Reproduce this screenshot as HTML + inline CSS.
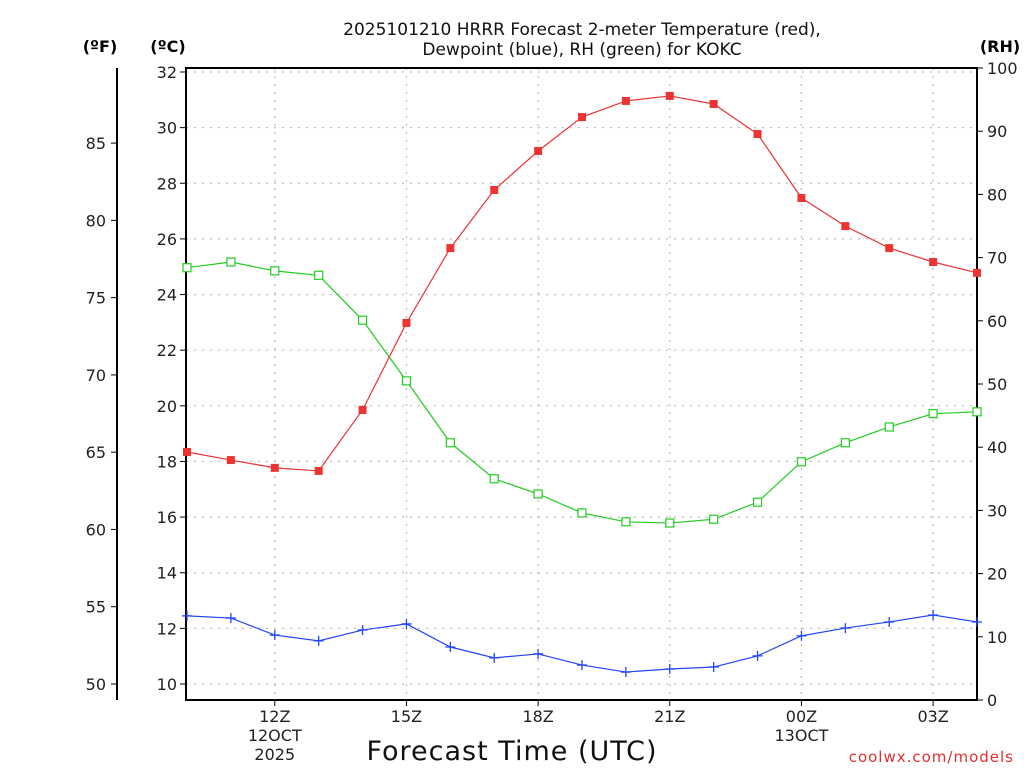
<!DOCTYPE html>
<html><head><meta charset="utf-8"><style>
body{margin:0;background:#fff;}
svg{display:block;font-family:"DejaVu Sans","Liberation Sans",sans-serif;}
</style></head><body>
<svg id="c" width="1024" height="768" xmlns="http://www.w3.org/2000/svg"></svg>
<script>
const hours = ["10Z","11Z","12Z","13Z","14Z","15Z","16Z","17Z","18Z","19Z","20Z","21Z","22Z","23Z","00Z","01Z","02Z","03Z","04Z"];
const tempC = [18.34,18.05,17.77,17.66,19.85,22.98,25.67,27.76,29.16,30.38,30.96,31.14,30.85,29.77,27.47,26.46,25.67,25.17,24.78];
const dewC = [12.45,12.37,11.76,11.55,11.94,12.16,11.33,10.94,11.08,10.68,10.43,10.54,10.61,11.01,11.73,12.01,12.23,12.48,12.23];
const rh = [68.4,69.3,67.9,67.2,60.1,50.5,40.7,35.0,32.6,29.6,28.2,28.0,28.6,31.3,37.7,40.7,43.2,45.3,45.6];
const cTicks = [10,12,14,16,18,20,22,24,26,28,30,32];
const fTicks = [50,55,60,65,70,75,80,85];
const rhTicks = [0,10,20,30,40,50,60,70,80,90,100];
const xLabels = [{i:2,t:["12Z","12OCT","2025"]},{i:5,t:["15Z"]},{i:8,t:["18Z"]},{i:11,t:["21Z"]},{i:14,t:["00Z","13OCT"]},{i:17,t:["03Z"]}];

const L=186,R=977,T=68,B=700;
const xs=i=>187+i*(977-187)/(hours.length-1);
const yc=c=>72+(32-c)*(684-72)/22;
const yf=f=>yc((f-32)*5/9);
const yr=r=>B-r*(B-T)/100;
const svg=document.getElementById('c');
const NS="http://www.w3.org/2000/svg";
function mk(tag,attrs,parent){const e=document.createElementNS(NS,tag);for(const k in attrs)e.setAttribute(k,attrs[k]);(parent||svg).appendChild(e);return e;}
function txt(x,y,s,attrs){const e=mk('text',Object.assign({x:x,y:y},attrs||{}));e.textContent=s;return e;}

// grid
const grid=mk('g',{stroke:'#bbb','stroke-dasharray':'2,6','stroke-width':1.2});


cTicks.forEach(c=>mk('line',{x1:L,x2:R,y1:yc(c),y2:yc(c)},grid));
xLabels.forEach(o=>mk('line',{x1:xs(o.i),x2:xs(o.i),y1:T,y2:B},grid));

// frame
const frame=mk('rect',{x:L,y:T,width:R-L,height:B-T,fill:'none',stroke:'#000','stroke-width':2});



// C axis
cTicks.forEach(c=>{mk('line',{x1:L-6,x2:L,y1:yc(c),y2:yc(c),stroke:'#000'});
 const t=txt(L-9,yc(c)+6,String(c),{'text-anchor':'end','font-size':16,fill:'#222'});
 
 });
// F axis
const fl=mk('line',{x1:117,x2:117,y1:68,y2:700,stroke:'#000','stroke-width':2});


fTicks.forEach(f=>{mk('line',{x1:111,x2:117,y1:yf(f),y2:yf(f),stroke:'#000'});
 const t=txt(106,yf(f)+6,String(f),{'text-anchor':'end','font-size':16,fill:'#222'});
 
 });
// RH axis
rhTicks.forEach(r=>{mk('line',{x1:R,x2:R+6,y1:yr(r),y2:yr(r),stroke:'#000'});
 const t=txt(R+10,yr(r)+6,String(r),{'font-size':16,fill:'#222'});
 
 });
// x labels
xLabels.forEach(o=>{mk('line',{x1:xs(o.i),x2:xs(o.i),y1:B,y2:B+6,stroke:'#000'});
 o.t.forEach((s,k)=>{const t=txt(xs(o.i),722+k*19,s,{'text-anchor':'middle','font-size':16,fill:'#222'});
 
 });});

// headers
[[100,'(ºF)'],[168,'(ºC)'],[1000,'(RH)']].forEach(a=>{const t=txt(a[0],52,a[1],{'text-anchor':'middle','font-size':16,'font-weight':'bold'});
 
 });
const t1=txt(582,35,'2025101210 HRRR Forecast 2-meter Temperature (red),',{'text-anchor':'middle','font-size':17,fill:'#111'});


const t2=txt(582,55,'Dewpoint (blue), RH (green) for KOKC',{'text-anchor':'middle','font-size':17,fill:'#111'});


const xt=txt(512,760,'Forecast Time (UTC)',{'text-anchor':'middle','font-size':27,fill:'#111','letter-spacing':'1'});


const cr=txt(1014,762,'coolwx.com/models',{'text-anchor':'end','font-size':15,fill:'#e03030','letter-spacing':'1'});



// series
function series(vals,yfn,color,name,marker){
 const g=mk('g',{});
 
 
 mk('polyline',{points:vals.map((v,i)=>xs(i)+','+yfn(v)).join(' '),fill:'none',stroke:color,'stroke-width':1.2},g);
 vals.forEach((v,i)=>{const x=xs(i),y=yfn(v);let m;
  if(marker==='fill')m=mk('rect',{x:x-4,y:y-4,width:8,height:8,fill:color},g);
  else if(marker==='open')m=mk('rect',{x:x-4,y:y-4,width:8,height:8,fill:'#fff',stroke:color,'stroke-width':1.2},g);
  else{m=mk('path',{d:`M${x-5},${y}H${x+5}M${x},${y-5}V${y+5}`,stroke:color,'stroke-width':1.3},g);}
  
  });
}
series(rh,yr,'#22cc22','rh-series','open');
series(dewC,yc,'#2244ff','dewpoint-series','plus');
series(tempC,yc,'#ee3333','temperature-series','fill');
</script>
</body></html>
